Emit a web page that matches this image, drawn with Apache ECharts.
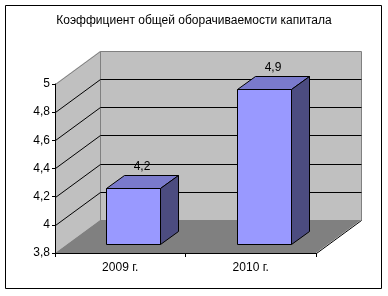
<!DOCTYPE html>
<html>
<head>
<meta charset="utf-8">
<script src="https://cdn.jsdelivr.net/npm/echarts@6/dist/echarts.min.js"></script>
<style>
html,body{margin:0;padding:0;background:#fff;}
#chart{width:388px;height:296px;}
</style>
</head>
<body>
<div id="chart"></div>
<script>
// ---- data ----
var titleText = 'Коэффициент общей оборачиваемости капитала';
var categories = ['2009 г.', '2010 г.'];
var values = [4.2, 4.9];
var yMin = 3.8, yMax = 5, yStep = 0.2;
var gridValues = [4, 4.2, 4.4, 4.6, 4.8];

// ---- style constants ----
var DEPTH_X = 45, DEPTH_Y = -33;      // wall depth
var BAR_OFF_X = 13, BAR_OFF_Y = -9;   // bar front plane shift
var BAR_D_X = 18, BAR_D_Y = -13;      // bar depth
var BAR_W_FRAC = 0.41;
var FONT = 'Arial, "Liberation Sans", sans-serif';

function px(v){ return Math.round(v) + 0.5; }
function fmt(v){ return String(+v.toFixed(1)).replace('.', ','); }

var chart = echarts.init(document.getElementById('chart'), null, {renderer:'canvas'});

var option = {
  animation: false,
  backgroundColor: '#fff',
  title: {
    text: titleText, left: 'center', top: 14, padding: 0,
    textStyle: {fontSize: 12, fontWeight: 'normal', color: '#000', fontFamily: FONT, lineHeight: 14}
  },
  graphic: [{
    type: 'rect', silent: true, z: 0,
    shape: {x: 5.5, y: 5.5, width: 376, height: 283},
    style: {fill: 'none', stroke: '#000', lineWidth: 1}
  }],
  grid: {left: 55, top: 84, width: 261, height: 169, containLabel: false},
  xAxis: {
    type: 'category', data: categories, boundaryGap: true, z: 10,
    axisLine: {show: true, lineStyle: {color: '#000', width: 1}},
    axisTick: {show: true, length: 4, lineStyle: {color: '#000'}},
    axisLabel: {color: '#000', fontSize: 12, fontFamily: FONT, margin: 9},
    splitLine: {show: false}
  },
  yAxis: {
    type: 'value', min: yMin, max: yMax, interval: yStep, z: 10,
    axisLine: {show: true, lineStyle: {color: '#000', width: 1}},
    axisTick: {show: true, length: 3, lineStyle: {color: '#000'}},
    axisLabel: {color: '#000', fontSize: 12, fontFamily: FONT, margin: 5,
      formatter: function(v){ return fmt(v); }},
    splitLine: {show: false}
  },
  series: [
    // walls and floor
    {
      type: 'custom', z: 1, clip: false, silent: true,
      data: [[0, yMin]],
      renderItem: function(params, api){
        var cs = params.coordSys;
        var x0 = Math.round(cs.x), x1 = Math.round(cs.x + cs.width);
        var yT = Math.round(api.coord([0, yMax])[1]);
        var yB = Math.round(api.coord([0, yMin])[1]);
        var bx0 = x0 + DEPTH_X, bx1 = x1 + DEPTH_X;
        var byT = yT + DEPTH_Y, byB = yB + DEPTH_Y;
        var gray = '#808080';
        return {type: 'group', children: [
          {type: 'polygon', shape: {points: [[x0,yT],[bx0,byT],[bx0,byB],[x0,yB]]}, style: {fill: '#c0c0c0'}},
          {type: 'polygon', shape: {points: [[bx0,byT],[bx1,byT],[bx1,byB],[bx0,byB]]}, style: {fill: '#c0c0c0'}},
          {type: 'polygon', shape: {points: [[x0,yB],[x1,yB],[bx1,byB],[bx0,byB]]}, style: {fill: '#808080'}},
          {type: 'line', shape: {x1: x0+0.5, y1: yT+0.5, x2: bx0+0.5, y2: byT+0.5}, style: {stroke: gray, lineWidth: 1}},
          {type: 'line', shape: {x1: bx0+0.5, y1: byT+0.5, x2: bx1+0.5, y2: byT+0.5}, style: {stroke: gray, lineWidth: 1}},
          {type: 'line', shape: {x1: bx1+0.5, y1: byT+0.5, x2: bx1+0.5, y2: byB+0.5}, style: {stroke: gray, lineWidth: 1}},
          {type: 'line', shape: {x1: bx0+0.5, y1: byT+0.5, x2: bx0+0.5, y2: byB+0.5}, style: {stroke: gray, lineWidth: 1}},
          {type: 'line', shape: {x1: x1+0.5, y1: yB+0.5, x2: bx1+0.5, y2: byB+0.5}, style: {stroke: '#000', lineWidth: 1}}
        ]};
      }
    },
    // gridlines on the walls
    {
      type: 'custom', z: 2, clip: false, silent: true,
      data: gridValues.map(function(v){ return [0, v]; }),
      renderItem: function(params, api){
        var cs = params.coordSys;
        var x0 = Math.round(cs.x), x1 = Math.round(cs.x + cs.width);
        var y = Math.round(api.coord([0, api.value(1)])[1]);
        var by = y + DEPTH_Y;
        return {type: 'group', children: [
          {type: 'line', shape: {x1: x0+0.5, y1: y+0.5, x2: x0+DEPTH_X+0.5, y2: by+0.5}, style: {stroke: '#000', lineWidth: 1}},
          {type: 'line', shape: {x1: x0+DEPTH_X+0.5, y1: by+0.5, x2: x1+DEPTH_X+0.5, y2: by+0.5}, style: {stroke: '#000', lineWidth: 1}}
        ]};
      }
    },
    // 3D bars
    {
      type: 'custom', z: 3, clip: false,
      data: values.map(function(v, i){ return [i, v]; }),
      renderItem: function(params, api){
        var idx = api.value(0), val = api.value(1);
        var top = api.coord([idx, val]);
        var base = api.coord([idx, yMin]);
        var w = api.size([1, 0])[0] * BAR_W_FRAC;
        var cx = top[0] + BAR_OFF_X;
        var l = Math.round(cx - w/2), r = Math.round(cx + w/2);
        var t = Math.round(top[1] + BAR_OFF_Y), b = Math.round(base[1] + BAR_OFF_Y);
        var dx = BAR_D_X, dy = BAR_D_Y;
        var L = l+0.5, R = r+0.5, T = t+0.5, B = b+0.5;
        var st = {stroke: '#000', lineWidth: 1};
        return {type: 'group', children: [
          {type: 'polygon', shape: {points: [[L,T],[L+dx,T+dy],[R+dx,T+dy],[R,T]]},
            style: Object.assign({fill: '#7a7acc'}, st)},
          {type: 'polygon', shape: {points: [[R,T],[R+dx,T+dy],[R+dx,B+dy],[R,B]]},
            style: Object.assign({fill: '#4c4c80'}, st)},
          {type: 'polygon', shape: {points: [[L,T],[R,T],[R,B],[L,B]]},
            style: Object.assign({fill: '#9999ff'}, st)},
          {type: 'text', style: {text: fmt(val), x: (l + r)/2 + dx/2, y: t + dy - 8,
            textAlign: 'center', textVerticalAlign: 'middle',
            fill: '#000', fontSize: 12, fontFamily: FONT}}
        ]};
      }
    }
  ]
};
chart.setOption(option);
</script>
</body>
</html>
